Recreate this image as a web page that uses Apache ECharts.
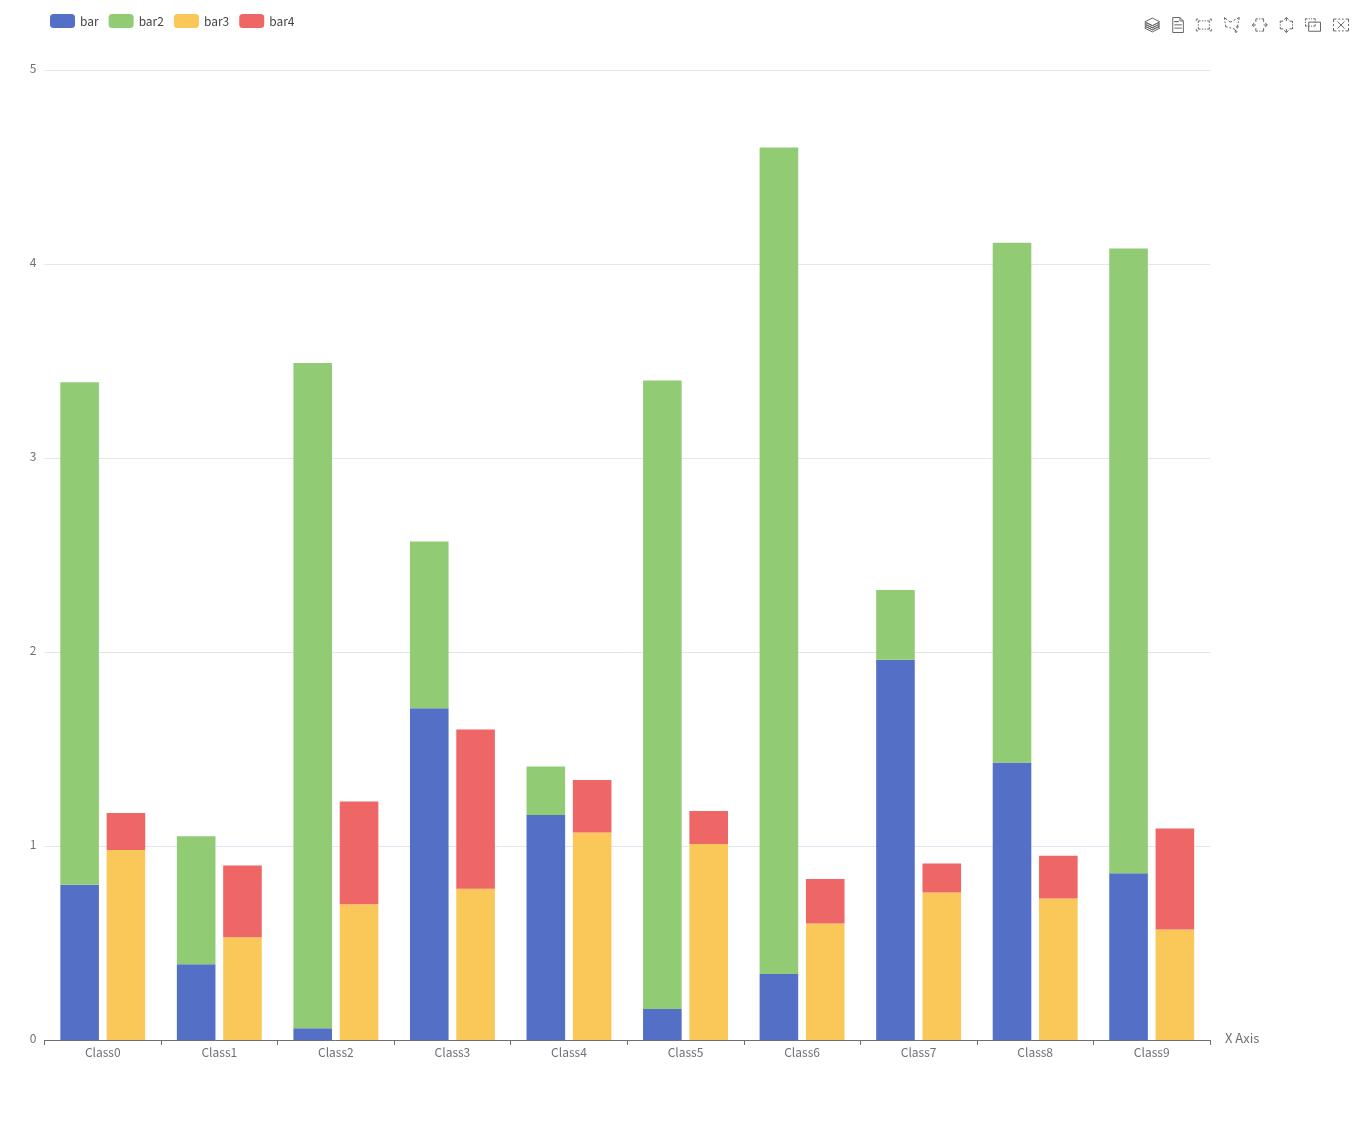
<!DOCTYPE html>
<html>
<head>
<meta charset="utf-8">
<script src="https://cdn.jsdelivr.net/npm/echarts@6/dist/echarts.min.js"></script>
<style>
  html, body { margin: 0; padding: 0; background: #fff; }
  #main { width: 1358px; height: 1122px; }
</style>
</head>
<body>
<div id="main"></div>
<script>
const categories = ['Class0', 'Class1', 'Class2', 'Class3', 'Class4', 'Class5', 'Class6', 'Class7', 'Class8', 'Class9'];
const bar1 = [0.80, 0.39, 0.06, 1.71, 1.16, 0.16, 0.34, 1.96, 1.43, 0.86];
const bar2 = [2.59, 0.66, 3.43, 0.86, 0.25, 3.24, 4.26, 0.36, 2.68, 3.22];
const bar3 = [0.98, 0.53, 0.70, 0.78, 1.07, 1.01, 0.60, 0.76, 0.73, 0.57];
const bar4 = [0.19, 0.37, 0.53, 0.82, 0.27, 0.17, 0.23, 0.15, 0.22, 0.52];

const font = '"Noto Sans CJK SC", "Noto Sans", sans-serif';
const chart = echarts.init(document.getElementById('main'));

chart.setOption({
  animation: false,
  color: ['#5470c6', '#91cc75', '#fac858', '#ee6666'],
  textStyle: { fontFamily: font },
  legend: {
    data: ['bar', 'bar2', 'bar3', 'bar4'],
    left: 45,
    top: 9,
    itemGap: 10,
    itemWidth: 25,
    itemHeight: 14,
    icon: 'roundRect',
    textStyle: { color: '#444', fontSize: 12, fontFamily: font }
  },
  toolbox: {
    right: -8,
    top: 0,
    itemSize: 15,
    itemGap: 8,
    iconStyle: { borderColor: '#666' },
    feature: {
      magicType: { type: ['stack'] },
      dataView: {},
      brush: { type: ['rect', 'polygon', 'lineX', 'lineY', 'keep', 'clear'] }
    }
  },
  brush: { toolbox: ['rect', 'polygon', 'lineX', 'lineY', 'keep', 'clear'], xAxisIndex: 0 },
  grid: { left: 44.5, right: 148, top: 70, bottom: 82, containLabel: false },
  xAxis: {
    type: 'category',
    data: categories,
    name: 'X Axis',
    nameGap: 15,
    nameTextStyle: { color: '#6E7079', fontSize: 13, verticalAlign: 'bottom', lineHeight: 4 },
    axisLine: { show: true, onZero: true, lineStyle: { color: '#6E7079' } },
    axisTick: { show: true, alignWithLabel: false, lineStyle: { color: '#6E7079' } },
    axisLabel: { color: '#6E7079', fontSize: 12, margin: 6 },
    splitLine: { show: false },
    splitArea: { show: false }
  },
  yAxis: {
    type: 'value',
    min: 0,
    max: 5,
    interval: 1,
    axisLine: { show: false },
    axisTick: { show: false },
    axisLabel: { color: '#6E7079', fontSize: 12, margin: 8, verticalAlign: 'bottom', lineHeight: 4 },
    splitLine: { show: true, lineStyle: { color: '#E0E6F1' } }
  },
  series: [
    { name: 'bar', type: 'bar', stack: 'one', data: bar1, barWidth: 38.6, barGap: '20%' },
    { name: 'bar2', type: 'bar', stack: 'one', data: bar2, barWidth: 38.6, barGap: '20%' },
    { name: 'bar3', type: 'bar', stack: 'two', data: bar3, barWidth: 38.6, barGap: '20%' },
    { name: 'bar4', type: 'bar', stack: 'two', data: bar4, barWidth: 38.6, barGap: '20%' }
  ]
});
</script>
</body>
</html>
